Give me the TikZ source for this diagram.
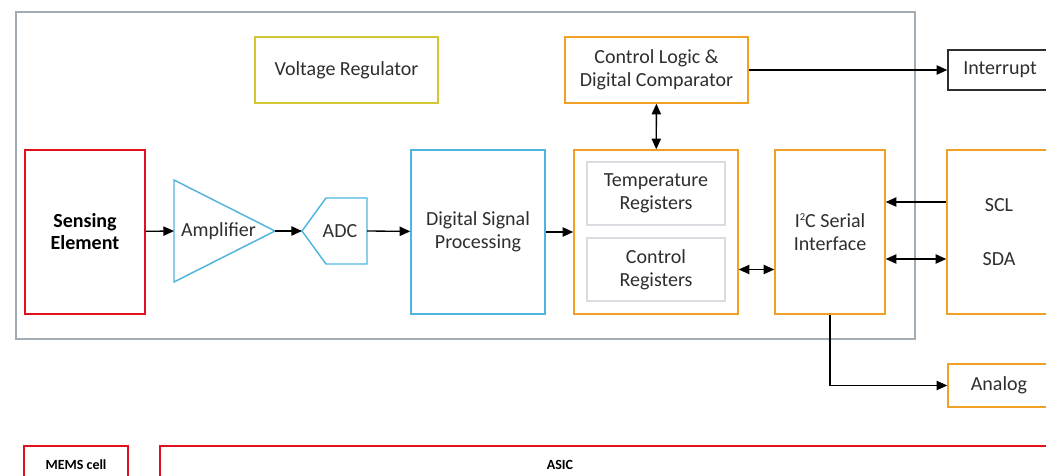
\documentclass[tikz,border=0pt]{standalone}
\usepackage{fontspec}
\setmainfont{Carlito}
\usetikzlibrary{arrows.meta,positioning}
\definecolor{Rim}{HTML}{A3ABB3}
\definecolor{Cell}{HTML}{E2101E}
\definecolor{Sky}{HTML}{4DB5E0}
\definecolor{Amber}{HTML}{F0A024}
\definecolor{Olive}{HTML}{D2C635}
\definecolor{Mist}{HTML}{D9DDE2}
\definecolor{Ink}{HTML}{2E2E2E}
\newcommand{\px}{0.75pt}
\tikzset{
  blk/.style={draw,line width=1.1pt,text=Ink,align=center,inner sep=0pt,
    font=\fontsize{15}{17}\selectfont},
  redblk/.style={blk,draw=Cell,font=\fontsize{15}{16.5}\selectfont\bfseries,text=black},
  skyblk/.style={blk,draw=Sky},
  ambblk/.style={blk,draw=Amber},
  regblk/.style={blk,draw=Mist},
  tagblk/.style={blk,draw=Cell,line width=0.9pt,font=\fontsize{10.5}{12}\selectfont\bfseries,text=black},
  txt/.style={text=Ink,inner sep=0pt,font=\fontsize{15}{17}\selectfont},
  wire/.style={line width=1pt,-{Triangle[length=8pt,width=7pt]}},
  wire2/.style={line width=1pt,{Triangle[length=8pt,width=7pt]}-{Triangle[length=8pt,width=7pt]}}
}
\begin{document}
\begin{tikzpicture}[x=\px,y=-\px]
\clip(0,0)rectangle(1046,475);
% chip outline
\draw[Rim,line width=1.1pt](16,12)rectangle(915,339);
% blocks
\node[blk,draw=Olive,minimum width=183*\px,minimum height=66*\px](volt)at(346.5,70){Voltage Regulator};
\node[ambblk,minimum width=183*\px,minimum height=66*\px](logic)at(656.5,70){Control Logic \&\\Digital Comparator};
\node[blk,draw=Ink,minimum width=104*\px,minimum height=40*\px](irq)at(1000,70){Interrupt};
\node[redblk,minimum width=120*\px,minimum height=164*\px](sens)at(85,232){Sensing\\Element};
% amplifier and converter
\draw[Sky,line width=1.1pt](174,180)--(275,231)--(174,282)--cycle;
\coordinate(ampin)at(174,231);\coordinate(ampout)at(275,231);
\node[txt](amp)at(218.5,231){Amplifier};
\draw[Sky,line width=1.1pt](302,231)--(326,198)--(367,198)--(367,264)--(326,264)--cycle;
\coordinate(adcin)at(302,231);\coordinate(adcout)at(367,231);
\node[txt](adc)at(340,231){ADC};
\node[skyblk,minimum width=134*\px,minimum height=164*\px](dsp)at(478,232){Digital Signal\\Processing};
\node[ambblk,minimum width=164*\px,minimum height=164*\px](regs)at(656,232){};
\node[regblk,minimum width=138*\px,minimum height=63*\px](temp)at(656,193.5){Temperature\\Registers};
\node[regblk,minimum width=138*\px,minimum height=63*\px](creg)at(656,269.5){Control\\Registers};
\node[ambblk,minimum width=110*\px,minimum height=164*\px](i2c)at(830,232){I\raisebox{0.7ex}{\fontsize{8}{8}\selectfont 2}C Serial\\Interface};
\node[ambblk,minimum width=104*\px,minimum height=164*\px](bus)at(999,232){};
\node[txt](scl)at(999,205){SCL};
\node[txt](sda)at(999,259){SDA};
\node[ambblk,minimum width=102*\px,minimum height=43*\px](ana)at(999,385.5){Analog};
% legend
\node[tagblk,minimum width=104*\px,minimum height=38*\px](mems)at(76,465){MEMS cell};
\node[tagblk,minimum width=900*\px,minimum height=38*\px](asic)at(610,465){};
\node[txt,font=\fontsize{10.5}{12}\selectfont\bfseries,text=black](asictxt)at(560,465){ASIC};
% connectors
\draw[wire](sens)--(ampin);
\draw[wire](ampout)--(adcin);
\draw[wire](adcout)--(dsp);
\draw[wire](dsp)--(regs);
\draw[wire2](logic)--(regs);
\draw[wire](logic)--(irq);
\draw[wire2](regs.east|-creg)--(i2c.west|-creg);
\draw[wire](bus.west|-0,202)--(i2c.east|-0,202);
\draw[wire2](i2c.east|-sda)--(bus.west|-sda);
\draw[wire](i2c.south)|-(ana.west);
\end{tikzpicture}
\end{document}
